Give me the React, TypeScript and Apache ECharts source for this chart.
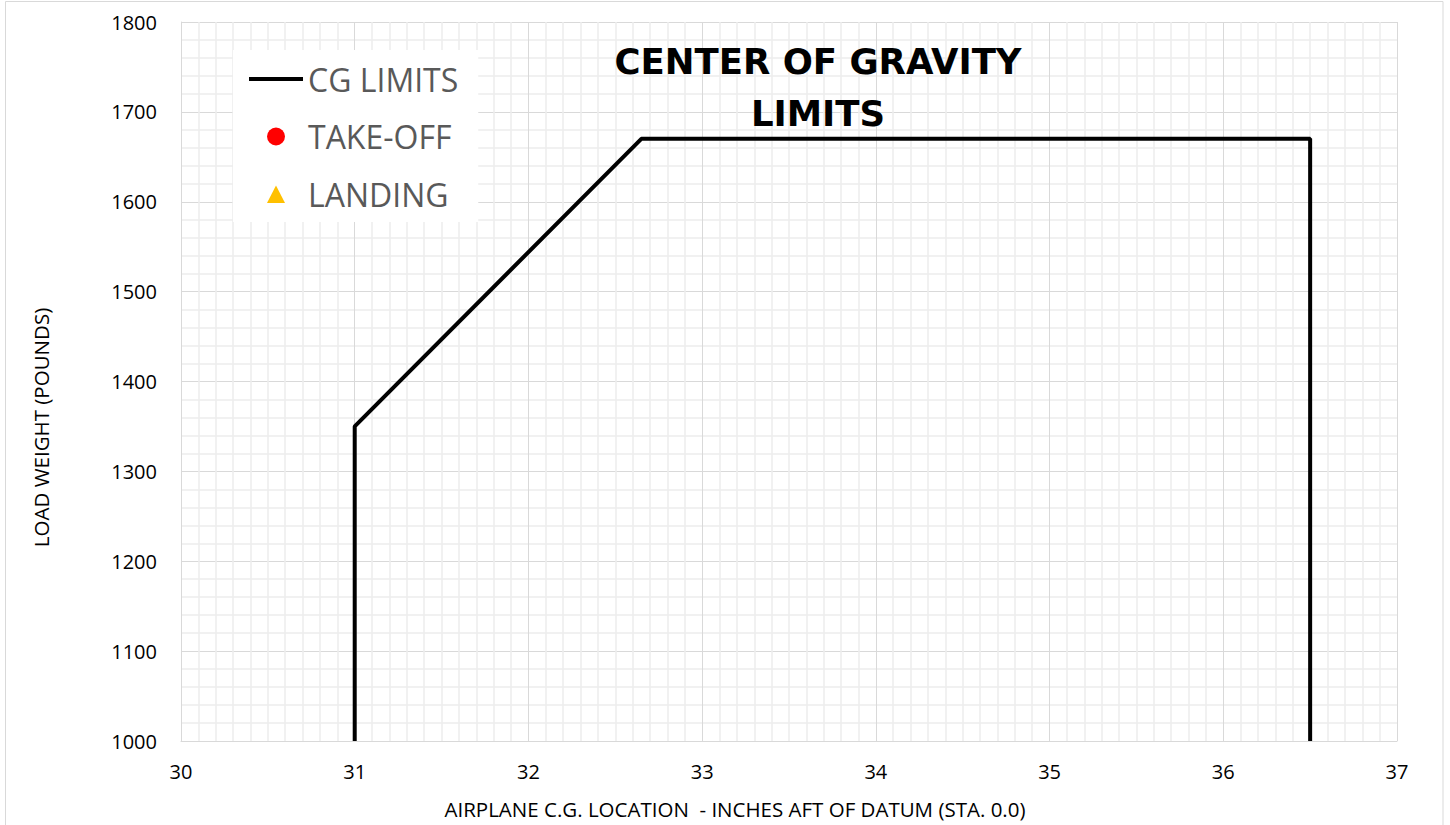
import React, { useEffect, useRef } from "react";
import * as echarts from "echarts";

const cgLimits: [number, number][] = [
  [31, 1000],
  [31, 1350],
  [32.65, 1670],
  [36.5, 1670],
  [36.5, 1000],
];
const takeOff: [number, number][] = [];
const landing: [number, number][] = [];
const seriesNames = ["CG LIMITS", "TAKE-OFF", "LANDING"];
const xRange = { min: 30, max: 37, interval: 1 };
const yRange = { min: 1000, max: 1800, interval: 100 };
const titleText = "CENTER OF GRAVITY\nLIMITS";
const xName = "AIRPLANE C.G. LOCATION  - INCHES AFT OF DATUM (STA. 0.0)";
const yName = "LOAD WEIGHT (POUNDS)";

const FONT = "'Open Sans', sans-serif";

const ICON_LINE = "path://M0,0 M54,20 M0,8 L54,8 L54,12 L0,12 Z";
const ICON_CIRCLE = "path://M0,0 M54,20 M18,10 A9,9 0 1,1 36,10 A9,9 0 1,1 18,10 Z";
const ICON_TRIANGLE = "path://M0,0 M54,20 M18,19 L27,1.5 L36,19 Z";

export default function App() {
  const ref = useRef<HTMLDivElement>(null);
  useEffect(() => {
    if (!ref.current) return;
    const chart = echarts.init(ref.current, undefined, { renderer: "svg" });
    chart.setOption({
      animation: false,
      backgroundColor: "#fff",
      textStyle: { fontFamily: FONT },
      title: {
        text: titleText,
        left: 813,
        top: 30,
        textAlign: "center",
        z: 1,
        textStyle: {
          fontFamily: "'DejaVu Sans', sans-serif",
          fontWeight: "bold",
          fontSize: 35.5,
          lineHeight: 52,
          color: "#000",
        },
      },
      legend: {
        data: [
          { name: seriesNames[0], icon: ICON_LINE },
          { name: seriesNames[1], icon: ICON_CIRCLE },
          { name: seriesNames[2], icon: ICON_TRIANGLE },
        ],
        orient: "vertical",
        left: 233,
        top: 50,
        padding: [9, 20, 8, 16],
        backgroundColor: "#fff",
        itemWidth: 54,
        itemHeight: 20,
        itemGap: 17.5,
        symbolKeepAspect: true,
        textStyle: {
          fontFamily: FONT,
          fontSize: 32,
          lineHeight: 40,
          color: "#595959",
        },
        z: 10,
      },
      graphic: [
        {
          type: "rect",
          shape: { x: 5.5, y: 1.5, width: 1437.5, height: 830 },
          style: { fill: "none", stroke: "#D9D9D9", lineWidth: 1 },
          silent: true,
        },
      ],
      grid: { left: 181, right: 53, top: 22, bottom: 84 },
      xAxis: {
        type: "value",
        min: xRange.min,
        max: xRange.max,
        interval: xRange.interval,
        name: xName,
        nameLocation: "middle",
        nameGap: 57,
        nameTextStyle: {
          fontFamily: FONT,
          fontSize: 20.5,
          color: "#000",
          padding: [0, 108, 0, 0],
        },
        axisLine: { show: true, lineStyle: { color: "#D9D9D9", width: 1 } },
        axisTick: { show: false },
        axisLabel: {
          fontFamily: FONT,
          fontSize: 20,
          color: "#000",
          margin: 20,
          formatter: (v: number) => String(v),
        },
        splitLine: { show: true, lineStyle: { color: "#D9D9D9", width: 1 } },
        minorTick: { show: false, splitNumber: 10 },
        minorSplitLine: { show: true, lineStyle: { color: "#EDEDED", width: 1.5 } },
      },
      yAxis: {
        type: "value",
        min: yRange.min,
        max: yRange.max,
        interval: yRange.interval,
        name: yName,
        nameLocation: "middle",
        nameGap: 130,
        nameTextStyle: {
          fontFamily: FONT,
          fontSize: 20.5,
          color: "#000",
          padding: [0, 92, 0, 0],
        },
        axisLine: { show: true, lineStyle: { color: "#D9D9D9", width: 1 } },
        axisTick: { show: false },
        axisLabel: {
          fontFamily: FONT,
          fontSize: 20,
          color: "#000",
          margin: 24,
          formatter: (v: number) => String(v),
        },
        splitLine: { show: true, lineStyle: { color: "#D9D9D9", width: 1 } },
        minorTick: { show: false, splitNumber: 5 },
        minorSplitLine: { show: true, lineStyle: { color: "#EDEDED", width: 1.5 } },
      },
      series: [
        {
          name: seriesNames[0],
          type: "line",
          data: cgLimits,
          symbol: "none",
          lineStyle: { color: "#000", width: 4 },
          itemStyle: { color: "#000" },
          clip: false,
          z: 3,
        },
        {
          name: seriesNames[1],
          type: "scatter",
          data: takeOff,
          symbol: "circle",
          symbolSize: 16,
          itemStyle: { color: "#FF0000", opacity: 1 },
        },
        {
          name: seriesNames[2],
          type: "scatter",
          data: landing,
          symbol: "triangle",
          symbolSize: 16,
          itemStyle: { color: "#FFC000", opacity: 1 },
        },
      ],
    });
    return () => chart.dispose();
  }, []);
  return (
    <div
      ref={ref}
      style={{ position: "fixed", left: 0, top: 0, width: 1450, height: 825 }}
    />
  );
}
